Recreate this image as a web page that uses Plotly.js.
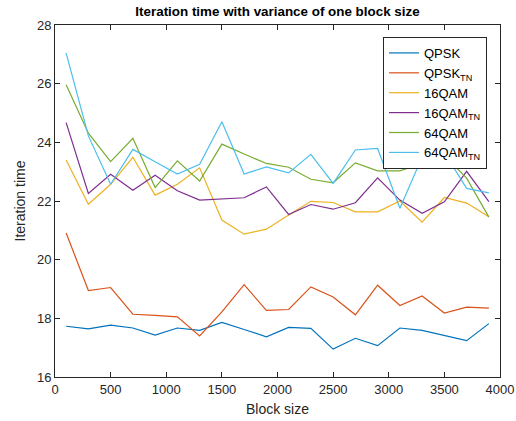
<!DOCTYPE html>
<html>
<head>
<meta charset="utf-8">
<script src="https://cdn.plot.ly/plotly-3.0.1.min.js"></script>
<style>html,body{margin:0;padding:0;background:#fff;}#chart{width:516px;height:421px;}</style>
</head>
<body>
<div id="chart"></div>
<script>
const blockSize = [100,300,500,700,900,1100,1300,1500,1700,1900,2100,2300,2500,2700,2900,3100,3300,3500,3700,3900];
const qpsk    = [17.73,17.64,17.77,17.67,17.43,17.67,17.59,17.86,17.62,17.37,17.69,17.66,16.95,17.32,17.07,17.67,17.59,17.42,17.24,17.82];
const qpskTN  = [20.91,18.95,19.05,18.14,18.10,18.05,17.40,18.22,19.15,18.27,18.30,19.07,18.73,18.12,19.13,18.44,18.76,18.18,18.38,18.35];
const qam16   = [23.40,21.89,22.57,23.49,22.20,22.57,23.13,21.35,20.87,21.04,21.52,21.99,21.95,21.63,21.63,22.00,21.28,22.12,21.93,21.46];
const qam16TN = [24.67,22.26,22.91,22.37,22.88,22.35,22.03,22.06,22.11,22.48,21.54,21.88,21.72,21.94,22.79,22.03,21.58,21.97,23.01,21.98];
const qam64   = [25.96,24.31,23.34,24.14,22.46,23.37,22.68,23.94,23.60,23.28,23.15,22.74,22.62,23.30,23.03,23.03,23.28,23.55,22.78,21.45];
const qam64TN = [27.04,24.22,22.57,23.76,23.34,22.92,23.25,24.70,22.92,23.16,22.96,23.59,22.60,23.74,23.79,21.75,23.50,23.65,22.43,22.28];

const seriesNames = ['QPSK','QPSK<sub>TN</sub>','16QAM','16QAM<sub>TN</sub>','64QAM','64QAM<sub>TN</sub>'];
const seriesData = [qpsk, qpskTN, qam16, qam16TN, qam64, qam64TN];
const colors = ['#0072BD','#D95319','#EDB120','#7E2F8E','#77AC30','#4DBEEE'];

const traces = seriesData.map((y, i) => ({
  x: blockSize, y: y, name: seriesNames[i], type: 'scatter', mode: 'lines',
  line: {color: colors[i], width: 1.2}
}));

const axisCommon = {
  showgrid: false, zeroline: false, showline: true, linecolor: '#262626', linewidth: 1,
  mirror: 'ticks', ticks: 'inside', ticklen: 5, tickcolor: '#262626',
  tickfont: {family: 'Liberation Sans, Arial, sans-serif', size: 13, color: '#262626'}
};

const layout = {
  width: 516, height: 421,
  margin: {l: 55, r: 16, t: 25, b: 44},
  paper_bgcolor: '#fff', plot_bgcolor: '#fff',
  font: {family: 'Liberation Sans, Arial, sans-serif', color: '#262626'},
  title: {text: '<b>Iteration time with variance of one block size</b>', x: 0.5, xref: 'paper',
          y: 0.972, yref: 'container', yanchor: 'middle',
          font: {size: 13.4, color: '#000', family: 'Liberation Sans, Arial, sans-serif'}},
  xaxis: Object.assign({}, axisCommon, {range: [0, 4000], tickvals: [0,500,1000,1500,2000,2500,3000,3500,4000],
          title: {text: 'Block size', font: {size: 14, color: '#262626'}, standoff: 8}}),
  yaxis: Object.assign({}, axisCommon, {range: [16, 28], tickvals: [16,18,20,22,24,26,28],
          title: {text: 'Iteration time', font: {size: 14, color: '#262626'}, standoff: 8}}),
  showlegend: true,
  legend: {x: 0.737, y: 0.966, xanchor: 'left', yanchor: 'top', bgcolor: '#fff',
           bordercolor: '#262626', borderwidth: 1,
           font: {family: 'Liberation Sans, Arial, sans-serif', size: 13, color: '#000'},
           tracegroupgap: 0}
};

Plotly.newPlot('chart', traces, layout, {staticPlot: true, displayModeBar: false});
</script>
</body>
</html>
